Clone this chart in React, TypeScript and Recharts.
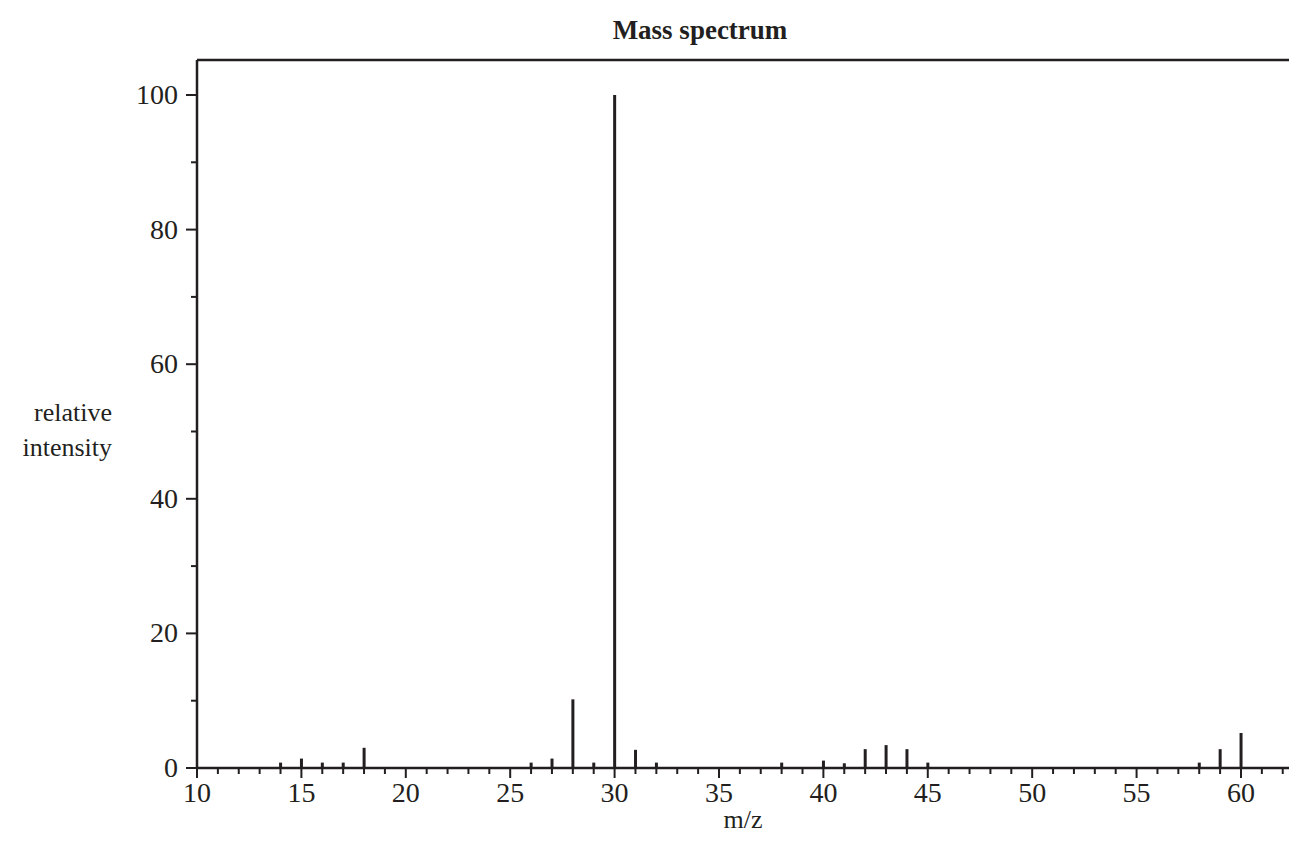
import React from "react";
import {
  ComposedChart,
  Bar,
  XAxis,
  YAxis,
  ReferenceLine,
} from "recharts";

const mzValues = [14, 15, 16, 17, 18, 26, 27, 28, 29, 30, 31, 32, 38, 40, 41, 42, 43, 44, 45, 58, 59, 60];
const intensities = [0.8, 1.4, 0.8, 0.8, 3.0, 0.8, 1.4, 10.2, 0.8, 100, 2.7, 0.8, 0.8, 1.1, 0.7, 2.8, 3.4, 2.8, 0.8, 0.8, 2.8, 5.2];

const xTicks = Array.from({ length: 53 }, (_, i) => 10 + i);
const yTicks = [0, 10, 20, 30, 40, 50, 60, 70, 80, 90, 100];

const X_MAX = 62.3;
const Y_MAX = 105.2;
const INK = "#231f20";
const FONT = "'Liberation Serif', 'Times New Roman', serif";

const data = mzValues.map((mz, i) => ({ mz, value: intensities[i] }));

function XTick(props: any) {
  const { x, y, payload } = props;
  const major = payload.value % 5 === 0;
  return (
    <g>
      <line x1={x} x2={x} y1={y} y2={y + (major ? 10 : 6)} stroke={INK} strokeWidth={2} />
      {major && (
        <text x={x} y={y + 34} textAnchor="middle" fill={INK} fontSize={28} fontFamily={FONT}>
          {payload.value}
        </text>
      )}
    </g>
  );
}

function YTick(props: any) {
  const { x, y, payload } = props;
  const major = payload.value % 20 === 0;
  return (
    <g>
      <line x1={x} x2={x - (major ? 11 : 6)} y1={y} y2={y} stroke={INK} strokeWidth={2} />
      {major && (
        <text x={x - 19} y={y + 9} textAnchor="end" fill={INK} fontSize={28} fontFamily={FONT}>
          {payload.value}
        </text>
      )}
    </g>
  );
}

export default function App() {
  return (
    <div style={{ position: "absolute", left: 0, top: 0, width: 1289, height: 844, background: "#fff" }}>
      <ComposedChart
        width={1289}
        height={844}
        data={data}
        margin={{ top: 60, right: 0, bottom: 16, left: 0 }}
      >
        <XAxis
          dataKey="mz"
          type="number"
          domain={[10, X_MAX]}
          ticks={xTicks}
          interval={0}
          allowDataOverflow
          axisLine={{ stroke: INK, strokeWidth: 2.5 }}
          tickLine={false}
          tickSize={0}
          tickMargin={0}
          height={60}
          tick={<XTick />}
        />
        <YAxis
          type="number"
          domain={[0, Y_MAX]}
          ticks={yTicks}
          interval={0}
          allowDataOverflow
          axisLine={{ stroke: INK, strokeWidth: 2.5 }}
          tickLine={false}
          tickSize={0}
          tickMargin={0}
          width={197}
          tick={<YTick />}
        />
        <ReferenceLine y={Y_MAX} stroke={INK} strokeWidth={2.5} />
        <Bar dataKey="value" fill={INK} barSize={3} isAnimationActive={false} />
        <text x={700} y={39} textAnchor="middle" fill={INK} fontSize={27} fontWeight="bold" fontFamily={FONT}>
          Mass spectrum
        </text>
        <text x={743} y={828} textAnchor="middle" fill={INK} fontSize={26} fontFamily={FONT}>
          m/z
        </text>
        <text x={112} y={421} textAnchor="end" fill={INK} fontSize={26} fontFamily={FONT}>
          relative
        </text>
        <text x={112} y={456} textAnchor="end" fill={INK} fontSize={26} fontFamily={FONT}>
          intensity
        </text>
      </ComposedChart>
    </div>
  );
}
